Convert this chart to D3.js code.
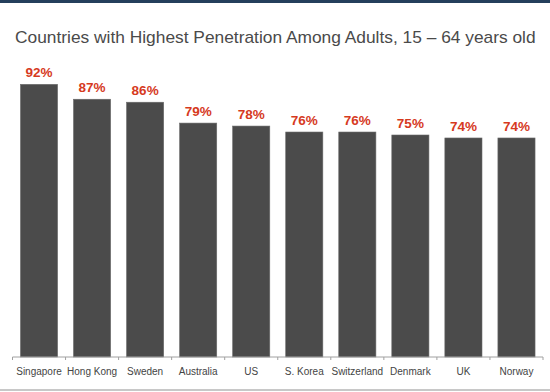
<!DOCTYPE html>
<html><head><meta charset="utf-8">
<script src="https://cdn.jsdelivr.net/npm/d3@7"></script>
<style>body{margin:0;background:#fff}svg{display:block}</style>
</head><body>
<svg id="c" width="550" height="392"></svg>
<script>
const categories = ["Singapore","Hong Kong","Sweden","Australia","US","S. Korea","Switzerland","Denmark","UK","Norway"];
const values = [92,87,86,79,78,76,76,75,74,74];
const title = "Countries with Highest Penetration Among Adults, 15 \u2013 64 years old";

const svg = d3.select("#c");
const W = 550, H = 392;
const x = d3.scaleBand().domain(categories).range([12.5, 543]).paddingInner(0.3).paddingOuter(0.15);
const y = d3.scaleLinear().domain([0, 100]).range([358.5, 60.5]);
const base = 357;

svg.append("rect").attr("x",0).attr("y",0).attr("width",W).attr("height",3).attr("fill","#243f5c");
svg.append("rect").attr("x",0).attr("y",389).attr("width",W).attr("height",2).attr("fill","#c8c8c8");

const t = svg.append("text").attr("x",15).attr("y",43).attr("font-family","Liberation Sans, Arial, sans-serif")
  .attr("font-size",20).attr("fill","#4a4a4a").text(title);
const tl = t.node().getComputedTextLength();
t.attr("font-size", Math.min(20, 20*521/tl));

svg.selectAll("rect.bar").data(values).join("rect").attr("class","bar")
  .attr("x",(d,i)=>x(categories[i])).attr("width",x.bandwidth())
  .attr("y",d=>y(d)).attr("height",d=>base - y(d))
  .attr("fill","#4b4b4b").attr("stroke","#6a6a6a").attr("stroke-width",0.6);

svg.selectAll("text.val").data(values).join("text").attr("class","val")
  .attr("x",(d,i)=>x(categories[i])+x.bandwidth()/2).attr("y",d=>y(d)-7)
  .attr("text-anchor","middle").attr("font-family","Liberation Sans, Arial, sans-serif")
  .attr("font-weight","bold").attr("font-size",13.5).attr("fill","#d63a1e")
  .text(d=>d+"%");

// axis
const g = svg.append("g").attr("transform",`translate(0,${base})`);
g.append("line").attr("x1",x.range()[0]).attr("x2",x.range()[1]).attr("stroke","#a0a0a0").attr("stroke-width",1);
const step = x.step();
const bounds = d3.range(categories.length+1).map(i=>x.range()[0]+i*step);
g.selectAll("line.tk").data(bounds).join("line").attr("class","tk")
  .attr("x1",d=>d).attr("x2",d=>d).attr("y1",0).attr("y2",3).attr("stroke","#a0a0a0");
g.selectAll("text.cat").data(categories).join("text").attr("class","cat")
  .attr("x",d=>x(d)+x.bandwidth()/2).attr("y",18).attr("text-anchor","middle")
  .attr("font-family","Liberation Sans, Arial, sans-serif").attr("font-size",10).attr("fill","#444")
  .text(d=>d);
</script>
</body></html>
